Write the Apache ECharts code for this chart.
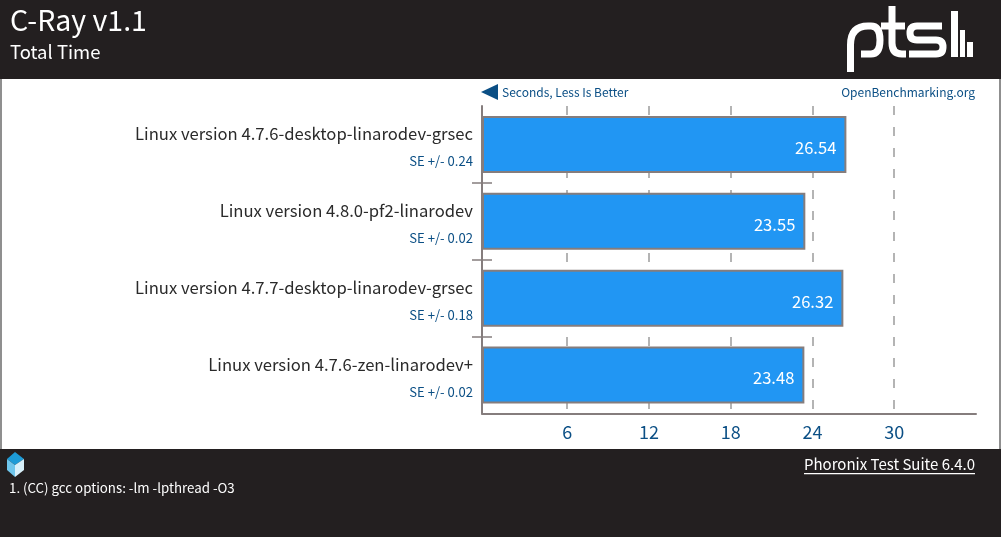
<!DOCTYPE html>
<html><head><meta charset="utf-8">
<style>html,body{margin:0;padding:0;background:#231f20}#c{width:1001px;height:537px}</style>
<script src="https://cdn.jsdelivr.net/npm/echarts@6/dist/echarts.min.js"></script>
</head><body><div id="c"></div>
<script>
const categories = ['Linux version 4.7.6-desktop-linarodev-grsec','Linux version 4.8.0-pf2-linarodev','Linux version 4.7.7-desktop-linarodev-grsec','Linux version 4.7.6-zen-linarodev+'];
const values = [26.54, 23.55, 26.32, 23.48];
const errors = ['SE +/- 0.24','SE +/- 0.02','SE +/- 0.18','SE +/- 0.02'];
const tickStep = 6, tickMax = 36;
const F = '"Noto Sans CJK JP"';
const DARK = '#231f20', BLUE = '#2196f3', INK = '#0b4f85', GREY = '#857d7d';
const chart = echarts.init(document.getElementById('c'), null, {renderer:'canvas'});
const txt = (x,y,text,size,fill,align,extra) => ({type:'text',x,y,z:10,style:Object.assign({text,fontFamily:F,fontSize:size,fill,align:align||'left',verticalAlign:'middle'},extra||{})});
const rect = (x,y,w,h,fill,z) => ({type:'rect',z:z===undefined?-1:z,shape:{x,y,width:w,height:h},style:{fill}});
const logoSvg = `<svg xmlns="http://www.w3.org/2000/svg" width="140" height="79" viewBox="840 0 140 79"><g fill="none" stroke="#fff" stroke-width="7"><path d="M850.5 72V45Q850.5 26 868 26H871Q880 26 880 40T871 54H861"/><path d="M892 6V43Q892 54 902 54H906M881 26H905"/><path d="M942 26H917Q910 26 910 33V33Q910 40 917 40H936Q943 40 943 47V47Q943 54 936 54H909"/></g><g fill="#fff"><rect x="951" y="11" width="7" height="46"/><rect x="960" y="30" width="5" height="27"/><rect x="967" y="42" width="6" height="15"/></g></svg>`;
chart.setOption({
  animation:false,
  backgroundColor:DARK,
  grid:[
    {left:482,top:106,width:494,height:307.5},
    {left:485.4,top:106,width:490.6,height:307.5}
  ],
  xAxis:[
    {gridIndex:0,type:'value',min:0,max:35.98,interval:tickMax,position:'bottom',
     axisLine:{show:true,onZero:false,lineStyle:{color:GREY,width:2}},
     axisTick:{show:false},splitLine:{show:false},axisLabel:{show:false}},
    {gridIndex:1,type:'value',min:0,max:tickMax,interval:tickStep,position:'bottom',
     axisLine:{show:false},axisTick:{show:false},
     splitLine:{show:true,showMinLine:false,showMaxLine:false,lineStyle:{color:'#b4b4b4',width:2,type:[9,12]}},
     axisLabel:{fontFamily:F,fontSize:18,color:INK,margin:10,showMinLabel:false,showMaxLabel:false}}
  ],
  yAxis:[
    {gridIndex:0,type:'category',inverse:true,data:categories,
     axisLine:{show:true,onZero:false,lineStyle:{color:GREY,width:2}},
     axisTick:{show:false},
     axisLabel:{margin:9,align:'right',padding:[6,0,0,0],
       formatter:(v,i)=>'{n|'+v+'}\n{s|'+errors[i]+'}',
       rich:{n:{fontFamily:F,fontSize:16.65,color:'#2a2a2a',height:27,align:'right'},
             s:{fontFamily:F,fontSize:13.1,color:INK,height:27,align:'right'}}}},
    {gridIndex:0,type:'value',min:0,max:4,position:'left',axisLine:{show:false},splitLine:{show:false},axisLabel:{show:false},
     axisTick:{show:true,length:10,customValues:[1,2,3],lineStyle:{color:GREY,width:1.5}}},
    {gridIndex:0,type:'value',min:0,max:4,position:'left',axisLine:{show:false},splitLine:{show:false},axisLabel:{show:false},
     axisTick:{show:true,inside:true,length:10,customValues:[1,2,3],lineStyle:{color:GREY,width:1.5}}},
    {gridIndex:1,type:'value',min:0,max:4,show:false}
  ],
  series:[{type:'bar',xAxisIndex:0,yAxisIndex:0,data:values,barWidth:57,z:3,
    itemStyle:{color:BLUE,borderColor:GREY,borderWidth:2},
    label:{show:true,position:'insideRight',distance:10,offset:[0,3],formatter:p=>p.value.toFixed(2),
      fontFamily:F,fontSize:16.6,color:'#fff'}}],
  graphic:{elements:[
    rect(2,79,997,370,'#ffffff'),
    rect(0,79,2,370,'#8f8f8f'),
    rect(999,79,2,370,'#8f8f8f'),
    txt(10,20,'C-Ray v1.1',28.5,'#fff'),
    txt(10,52,'Total Time',18.5,'#fff'),
    {type:'polygon',z:10,shape:{points:[[481,92],[498,84],[498,100]]},style:{fill:INK}},
    txt(502,92,'Seconds, Less Is Better',12,INK),
    txt(975,92,'OpenBenchmarking.org',12,INK,'right'),
    txt(975,464,'Phoronix Test Suite 6.4.0',15,'#fff','right'),
    {type:'rect',z:10,shape:{x:804,y:473,width:171,height:1.2},style:{fill:'#fff'}},
    txt(9,488,'1. (CC) gcc options: -lm -lpthread -O3',13.3,'#fff'),
    {type:'image',z:10,x:840,y:0,style:{image:'data:image/svg+xml;charset=utf-8,'+encodeURIComponent(logoSvg),width:140,height:79}},
    {type:'polygon',z:10,shape:{points:[[15,452],[24,459],[15,465],[7,459]]},style:{fill:'#1d9bd7'}},
    {type:'polygon',z:10,shape:{points:[[7,459],[15,465],[15,477],[7,470]]},style:{fill:'#6fc6ec'}},
    {type:'polygon',z:10,shape:{points:[[24,459],[15,465],[15,477],[24,470]]},style:{fill:'#d8f0fa'}}
  ]}
});
</script></body></html>
